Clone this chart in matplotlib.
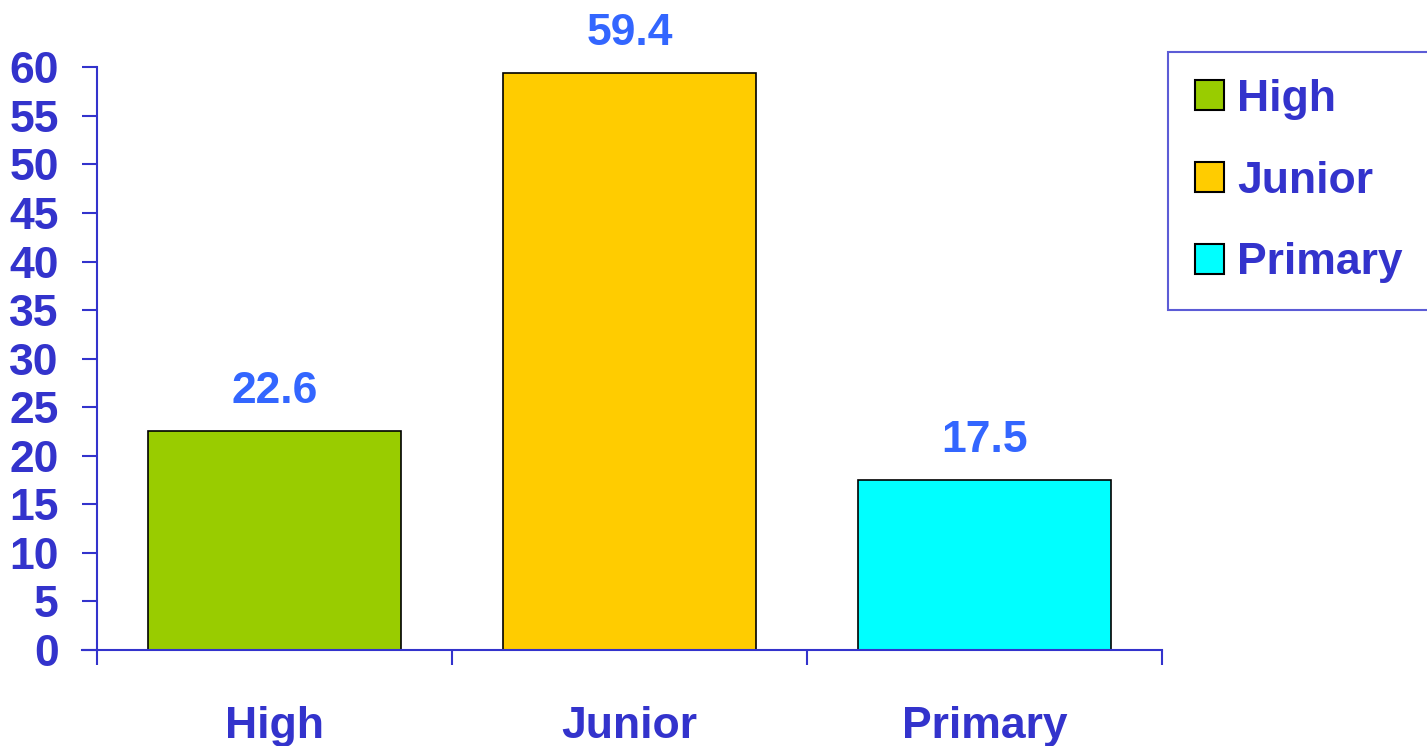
import matplotlib.pyplot as plt
from matplotlib.patches import Patch

categories = ["High", "Junior", "Primary"]
values = [22.6, 59.4, 17.5]
bar_colors = ["#99CC00", "#FFCC00", "#00FFFF"]
y_ticks = list(range(0, 61, 5))

text_blue = "#3333CC"
value_blue = "#3366FF"

plt.rcParams["font.family"] = ["Liberation Sans", "DejaVu Sans"]
plt.rcParams["font.weight"] = "bold"

fig = plt.figure(figsize=(14.27, 7.46), dpi=100)
ax = fig.add_axes([97 / 1427, 96 / 746, 1065 / 1427, 582.6 / 746])

x = list(range(len(categories)))
bars = ax.bar(x, values, width=0.715, color=bar_colors, edgecolor="black", linewidth=1.2)

for xi, v in zip(x, values):
    ax.annotate(f"{v}", (xi, v), xytext=(0, 20), textcoords="offset points",
                ha="center", va="baseline", fontsize=32, fontweight="bold", color=value_blue)

ax.set_xlim(-0.5, 2.5)
ax.set_ylim(0, 60)
ax.set_yticks(y_ticks)
ax.set_xticks([-0.5, 0.5, 1.5, 2.5])
ax.set_xticklabels([])
ax.set_xticks(x, minor=True)
ax.set_xticklabels(categories, minor=True)

ax.tick_params(axis="y", length=10.5, width=1.5, color=text_blue, pad=17,
               labelsize=32, labelcolor=text_blue)
ax.tick_params(axis="x", which="major", length=10.5, width=1.5, color=text_blue)
ax.tick_params(axis="x", which="minor", length=0, pad=40, labelsize=32, labelcolor=text_blue)

for side in ["top", "right"]:
    ax.spines[side].set_visible(False)
for side in ["left", "bottom"]:
    ax.spines[side].set_color(text_blue)
    ax.spines[side].set_linewidth(1.5)
ax.spines["bottom"].set_bounds(-0.5 - 15 / 355, 2.5)

handles = [Patch(facecolor=c, edgecolor="black", linewidth=1.5) for c in bar_colors]
leg = fig.legend(handles, categories, loc="upper left", bbox_to_anchor=(1168 / 1427, 1 - 52 / 746),
                 fontsize=32, frameon=True, fancybox=False, handlelength=0.65, handleheight=0.65,
                 handletextpad=0.3, labelspacing=0.92, borderpad=0.6, borderaxespad=0)
leg.get_frame().set_edgecolor(text_blue)
leg.get_frame().set_linewidth(1.5)
for t in leg.get_texts():
    t.set_color(text_blue)
    t.set_fontweight("bold")

fig.savefig("out.png", dpi=100)
